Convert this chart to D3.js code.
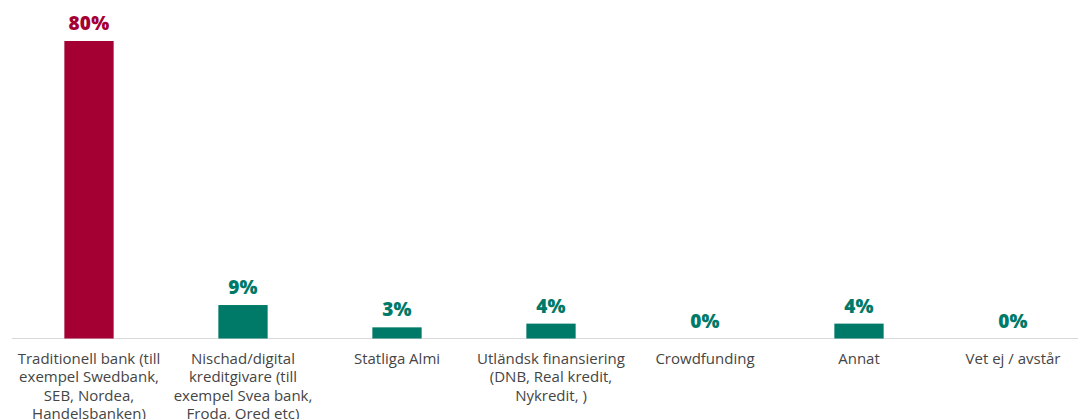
<!DOCTYPE html>
<html>
<head>
<meta charset="utf-8">
<script src="https://cdn.jsdelivr.net/npm/d3@7"></script>
<style>
  body { margin: 0; background: #fff; }
  svg text { font-family: "Open Sans", Lato, sans-serif; }
</style>
</head>
<body>
<div class="chart"></div>
<script>
// categories (line breaks as in the original)
var categories = [
  "Traditionell bank (till|exempel Swedbank,|SEB, Nordea,|Handelsbanken)",
  "Nischad/digital|kreditgivare (till|exempel Svea bank,|Froda, Qred etc)",
  "Statliga Almi",
  "Utländsk finansiering|(DNB, Real kredit,|Nykredit, )",
  "Crowdfunding",
  "Annat",
  "Vet ej / avstår"
];
var values = [80, 9, 3, 4, 0, 4, 0];
var highlight = [true, false, false, false, false, false, false];

var width = 1078, height = 419;
var baseY = 338.5;

var svg = d3.select('.chart')
            .append('svg')
            .attr('width', width)
            .attr('height', height);

// x scale: one band per category
var x = d3.scaleBand()
          .domain(categories)
          .range([12, 1090])
          .paddingInner(0.68)
          .paddingOuter(0.34);

// y scale: 80% reaches y=41
var y = d3.scaleLinear()
          .domain([0, 80])
          .range([baseY, 41]);

var red = "#a50034", teal = "#007a68";

// baseline
svg.append("line")
   .attr("x1", 12).attr("x2", width)
   .attr("y1", baseY).attr("y2", baseY)
   .attr("stroke", "#d9d9d9")
   .attr("stroke-width", 1);

// bars
svg.selectAll("rect.bar")
   .data(categories)
   .enter().append("rect")
   .attr("class", "bar")
   .attr("x", function(d) { return x(d); })
   .attr("width", x.bandwidth())
   .attr("y", function(d, i) { return y(values[i]); })
   .attr("height", function(d, i) { return baseY - y(values[i]); })
   .attr("fill", function(d, i) { return highlight[i] ? red : teal; });

// value labels
svg.selectAll("text.val")
   .data(categories)
   .enter().append("text")
   .attr("class", "val")
   .attr("x", function(d) { return x(d) + x.bandwidth() / 2; })
   .attr("y", function(d, i) { return y(values[i]) - 11; })
   .attr("text-anchor", "middle")
   .attr("font-size", "19px")
   .attr("font-weight", "800")
   .attr("letter-spacing", "0.3px")
   .attr("fill", function(d, i) { return highlight[i] ? red : teal; })
   .text(function(d, i) { return values[i] + "%"; });

// category labels
var labels = svg.selectAll("text.cat")
   .data(categories)
   .enter().append("text")
   .attr("class", "cat")
   .attr("text-anchor", "middle")
   .attr("font-size", "15px")
   .attr("fill", "#454545")
   .attr("transform", function(d) {
     return "translate(" + (x(d) + x.bandwidth() / 2) + "," + 364 + ")";
   });

labels.selectAll("tspan")
   .data(function(d) { return d.split("|"); })
   .enter().append("tspan")
   .attr("x", 0)
   .attr("y", function(d, i) { return i * 18.3; })
   .text(function(d) { return d; });
</script>
</body>
</html>
